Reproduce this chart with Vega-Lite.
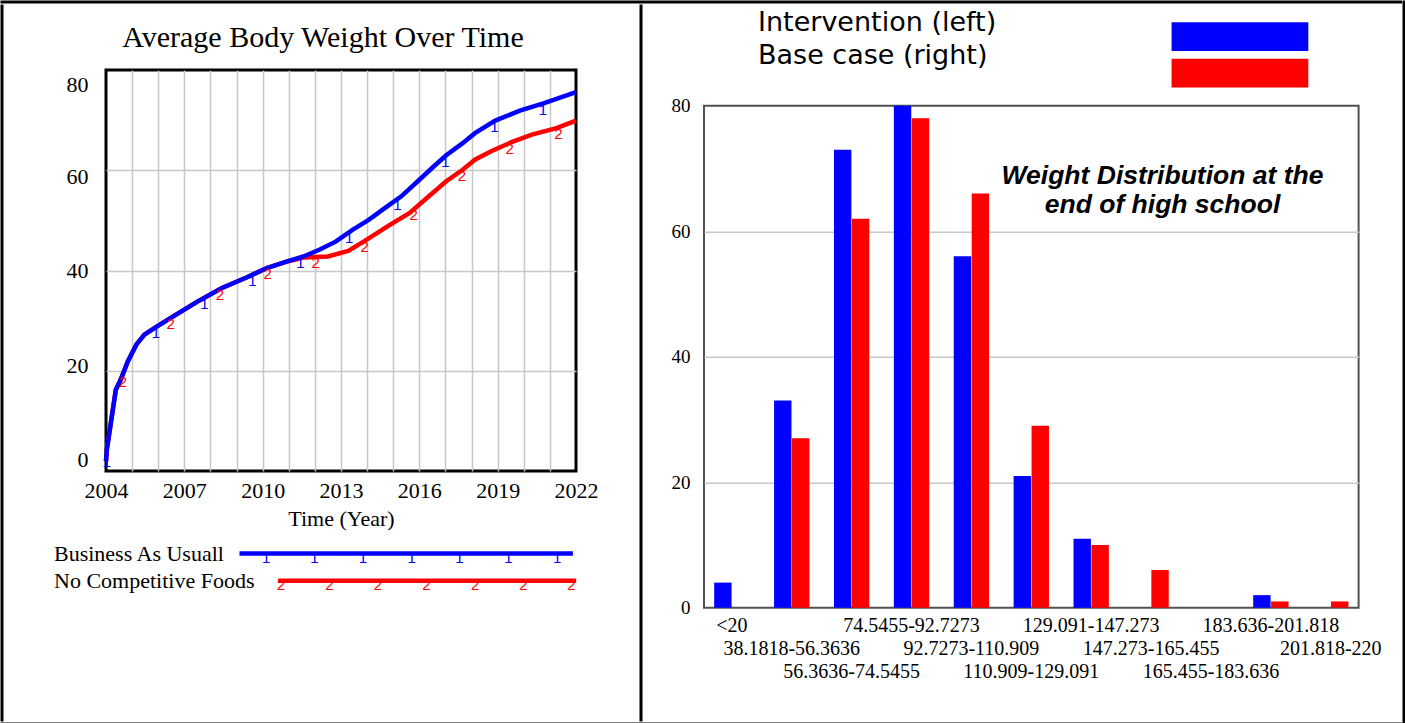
{
  "$schema": "https://vega.github.io/schema/vega-lite/v6.json",
  "padding": 0,
  "background": "white",
  "config": {
    "view": {"stroke": null},
    "axis": {"labelColor": "black", "titleColor": "black"}
  },
  "datasets": {
    "curves": [
      {"series": "Business As Usuall", "t": 2004.0, "v": 2.0},
      {"series": "Business As Usuall", "t": 2004.03, "v": 4.2},
      {"series": "Business As Usuall", "t": 2004.375, "v": 16.2},
      {"series": "Business As Usuall", "t": 2004.56, "v": 18.2},
      {"series": "Business As Usuall", "t": 2004.84, "v": 21.9},
      {"series": "Business As Usuall", "t": 2005.16, "v": 25.2},
      {"series": "Business As Usuall", "t": 2005.47, "v": 27.2},
      {"series": "Business As Usuall", "t": 2005.94, "v": 28.8},
      {"series": "Business As Usuall", "t": 2006.56, "v": 30.8},
      {"series": "Business As Usuall", "t": 2007.5, "v": 33.8},
      {"series": "Business As Usuall", "t": 2008.44, "v": 36.5},
      {"series": "Business As Usuall", "t": 2009.38, "v": 38.6},
      {"series": "Business As Usuall", "t": 2010.16, "v": 40.5},
      {"series": "Business As Usuall", "t": 2010.94, "v": 41.8},
      {"series": "Business As Usuall", "t": 2011.56, "v": 42.8},
      {"series": "Business As Usuall", "t": 2012.19, "v": 44.2},
      {"series": "Business As Usuall", "t": 2012.81, "v": 45.8},
      {"series": "Business As Usuall", "t": 2013.44, "v": 48.1},
      {"series": "Business As Usuall", "t": 2014.06, "v": 50.1},
      {"series": "Business As Usuall", "t": 2014.69, "v": 52.5},
      {"series": "Business As Usuall", "t": 2015.31, "v": 54.8},
      {"series": "Business As Usuall", "t": 2015.94, "v": 57.8},
      {"series": "Business As Usuall", "t": 2016.56, "v": 60.8},
      {"series": "Business As Usuall", "t": 2017.03, "v": 63.0},
      {"series": "Business As Usuall", "t": 2017.66, "v": 65.4},
      {"series": "Business As Usuall", "t": 2018.13, "v": 67.4},
      {"series": "Business As Usuall", "t": 2018.91, "v": 69.9},
      {"series": "Business As Usuall", "t": 2019.85, "v": 71.9},
      {"series": "Business As Usuall", "t": 2020.78, "v": 73.4},
      {"series": "Business As Usuall", "t": 2022.0, "v": 75.6},
      {"series": "No Competitive Foods", "t": 2004.0, "v": 2.0},
      {"series": "No Competitive Foods", "t": 2004.03, "v": 4.2},
      {"series": "No Competitive Foods", "t": 2004.375, "v": 16.2},
      {"series": "No Competitive Foods", "t": 2004.56, "v": 18.2},
      {"series": "No Competitive Foods", "t": 2004.84, "v": 21.9},
      {"series": "No Competitive Foods", "t": 2005.16, "v": 25.2},
      {"series": "No Competitive Foods", "t": 2005.47, "v": 27.2},
      {"series": "No Competitive Foods", "t": 2005.94, "v": 28.8},
      {"series": "No Competitive Foods", "t": 2006.56, "v": 30.8},
      {"series": "No Competitive Foods", "t": 2007.5, "v": 33.8},
      {"series": "No Competitive Foods", "t": 2008.44, "v": 36.5},
      {"series": "No Competitive Foods", "t": 2009.38, "v": 38.6},
      {"series": "No Competitive Foods", "t": 2010.16, "v": 40.5},
      {"series": "No Competitive Foods", "t": 2010.94, "v": 41.8},
      {"series": "No Competitive Foods", "t": 2011.56, "v": 42.6},
      {"series": "No Competitive Foods", "t": 2012.0, "v": 42.7},
      {"series": "No Competitive Foods", "t": 2012.5, "v": 42.8},
      {"series": "No Competitive Foods", "t": 2013.28, "v": 43.9},
      {"series": "No Competitive Foods", "t": 2013.91, "v": 45.9},
      {"series": "No Competitive Foods", "t": 2014.84, "v": 49.0},
      {"series": "No Competitive Foods", "t": 2015.63, "v": 51.5},
      {"series": "No Competitive Foods", "t": 2016.41, "v": 55.0},
      {"series": "No Competitive Foods", "t": 2017.03, "v": 57.8},
      {"series": "No Competitive Foods", "t": 2017.66, "v": 60.1},
      {"series": "No Competitive Foods", "t": 2018.13, "v": 62.1},
      {"series": "No Competitive Foods", "t": 2018.75, "v": 63.8},
      {"series": "No Competitive Foods", "t": 2019.53, "v": 65.6},
      {"series": "No Competitive Foods", "t": 2020.31, "v": 67.1},
      {"series": "No Competitive Foods", "t": 2021.25, "v": 68.4},
      {"series": "No Competitive Foods", "t": 2022.0, "v": 69.9}
    ],
    "markers": [
      {"series": "Business As Usuall", "t": 2004.03, "v": 3.0},
      {"series": "Business As Usuall", "t": 2005.91, "v": 28.7},
      {"series": "Business As Usuall", "t": 2007.77, "v": 34.6},
      {"series": "Business As Usuall", "t": 2009.61, "v": 39.1},
      {"series": "Business As Usuall", "t": 2011.45, "v": 42.6},
      {"series": "Business As Usuall", "t": 2013.31, "v": 47.6},
      {"series": "Business As Usuall", "t": 2015.16, "v": 54.3},
      {"series": "Business As Usuall", "t": 2017.0, "v": 62.9},
      {"series": "Business As Usuall", "t": 2018.88, "v": 69.8},
      {"series": "Business As Usuall", "t": 2020.73, "v": 73.3},
      {"series": "No Competitive Foods", "t": 2004.65, "v": 19.0},
      {"series": "No Competitive Foods", "t": 2006.48, "v": 30.6},
      {"series": "No Competitive Foods", "t": 2008.36, "v": 36.3},
      {"series": "No Competitive Foods", "t": 2010.19, "v": 40.5},
      {"series": "No Competitive Foods", "t": 2012.03, "v": 42.7},
      {"series": "No Competitive Foods", "t": 2013.91, "v": 45.9},
      {"series": "No Competitive Foods", "t": 2015.78, "v": 52.3},
      {"series": "No Competitive Foods", "t": 2017.63, "v": 60.0},
      {"series": "No Competitive Foods", "t": 2019.46, "v": 65.5},
      {"series": "No Competitive Foods", "t": 2021.33, "v": 68.5}
    ],
    "legendItems": [
      {"series": "Business As Usuall"},
      {"series": "No Competitive Foods"}
    ],
    "legendMarkers": [
      {"series": "Business As Usuall", "t": 2010.13},
      {"series": "Business As Usuall", "t": 2011.98},
      {"series": "Business As Usuall", "t": 2013.84},
      {"series": "Business As Usuall", "t": 2015.70},
      {"series": "Business As Usuall", "t": 2017.53},
      {"series": "Business As Usuall", "t": 2019.41},
      {"series": "Business As Usuall", "t": 2021.27},
      {"series": "No Competitive Foods", "t": 2010.70},
      {"series": "No Competitive Foods", "t": 2012.55},
      {"series": "No Competitive Foods", "t": 2014.41},
      {"series": "No Competitive Foods", "t": 2016.27},
      {"series": "No Competitive Foods", "t": 2018.13},
      {"series": "No Competitive Foods", "t": 2019.98},
      {"series": "No Competitive Foods", "t": 2021.82}
    ],
    "headerItems": [
      {"series": "Intervention (left)"},
      {"series": "Base case (right)"}
    ],
    "bins": [
      {"bin": "<20", "series": "Intervention (left)", "count": 4},
      {"bin": "<20", "series": "Base case (right)", "count": 0},
      {"bin": "38.1818-56.3636", "series": "Intervention (left)", "count": 33},
      {"bin": "38.1818-56.3636", "series": "Base case (right)", "count": 27},
      {"bin": "56.3636-74.5455", "series": "Intervention (left)", "count": 73},
      {"bin": "56.3636-74.5455", "series": "Base case (right)", "count": 62},
      {"bin": "74.5455-92.7273", "series": "Intervention (left)", "count": 80},
      {"bin": "74.5455-92.7273", "series": "Base case (right)", "count": 78},
      {"bin": "92.7273-110.909", "series": "Intervention (left)", "count": 56},
      {"bin": "92.7273-110.909", "series": "Base case (right)", "count": 66},
      {"bin": "110.909-129.091", "series": "Intervention (left)", "count": 21},
      {"bin": "110.909-129.091", "series": "Base case (right)", "count": 29},
      {"bin": "129.091-147.273", "series": "Intervention (left)", "count": 11},
      {"bin": "129.091-147.273", "series": "Base case (right)", "count": 10},
      {"bin": "147.273-165.455", "series": "Intervention (left)", "count": 0},
      {"bin": "147.273-165.455", "series": "Base case (right)", "count": 6},
      {"bin": "165.455-183.636", "series": "Intervention (left)", "count": 0},
      {"bin": "165.455-183.636", "series": "Base case (right)", "count": 0},
      {"bin": "183.636-201.818", "series": "Intervention (left)", "count": 2},
      {"bin": "183.636-201.818", "series": "Base case (right)", "count": 1},
      {"bin": "201.818-220", "series": "Intervention (left)", "count": 0},
      {"bin": "201.818-220", "series": "Base case (right)", "count": 1}
    ]
  },
  "spacing": 0,
  "hconcat": [
    {
      "spacing": 0,
      "vconcat": [
        {"width": 1398.5, "height": 0.01, "data": {"values": []}, "mark": "rule", "encoding": {}, "view": {"stroke": "black", "strokeWidth": 3}},
        {
          "spacing": 0,
          "hconcat": [
            {"width": 0.01, "height": 714, "data": {"values": []}, "mark": "rule", "encoding": {}, "view": {"stroke": "black", "strokeWidth": 3}},
            {
              "bounds": "flush",
              "spacing": 63,
              "vconcat": [
                {
                  "width": 532.5,
                  "height": 0.01,
                  "data": {"values": [{}]},
                  "mark": {"type": "text", "text": "", "baseline": "top", "fontSize": 1},
                  "encoding": {
                    "x": {"datum": 0.5, "type": "quantitative", "scale": {"domain": [0, 1]},
                      "axis": {"labels": false, "ticks": false, "domain": false, "grid": false,
                        "title": "Average Body Weight Over Time", "titleFont": "Liberation Serif", "titleFontSize": 30, "titleFontWeight": "normal",
                        "titleX": 216.5, "titleY": 40.5, "titleAlign": "center", "titleBaseline": "alphabetic", "titleAngle": 0}}
                  }
                },
                {
                  "width": 470,
                  "height": 401,
                  "view": {"stroke": "black", "strokeWidth": 3},
                  "encoding": {
                    "x": {"field": "t", "type": "quantitative",
                      "scale": {"domain": [2004, 2022], "nice": false, "zero": false},
                      "axis": {"values": [2004,2005,2006,2007,2008,2009,2010,2011,2012,2013,2014,2015,2016,2017,2018,2019,2020,2021,2022],
                        "labelExpr": "datum.value % 3 == 0 ? format(datum.value, 'd') : ''",
                        "labelFlush": false, "labelOverlap": false, "grid": true, "gridColor": "#c8c8c8", "gridWidth": 1.5,
                        "gridOpacity": {"condition": {"test": "datum.value == 2004 || datum.value == 2022", "value": 0}, "value": 1},
                        "ticks": false, "domain": false, "labelFont": "Liberation Serif", "labelFontSize": 22, "labelPadding": 9.5,
                        "title": "Time (Year)", "titleFont": "Liberation Serif", "titleFontSize": 22, "titleFontWeight": "normal", "titleY": 54, "titleBaseline": "alphabetic"}},
                    "y": {"field": "v", "type": "quantitative",
                      "scale": {"domain": [0, 80], "nice": false},
                      "axis": {"values": [0, 20, 40, 60, 80], "grid": true, "gridColor": "#c8c8c8", "gridWidth": 1.5,
                        "gridOpacity": {"condition": {"test": "datum.value == 0 || datum.value == 80", "value": 0}, "value": 1},
                        "ticks": false, "domain": false, "labelFont": "Liberation Serif", "labelFontSize": 22, "labelPadding": 18,
                        "labelOffset": {"condition": [{"test": "datum.value == 80", "value": 14}, {"test": "datum.value == 60", "value": 6}, {"test": "datum.value == 20", "value": -5}, {"test": "datum.value == 0", "value": -12}], "value": 0},
                        "title": " ", "titleX": -100, "titleY": -58, "titleAngle": 0, "titleAlign": "left", "titleBaseline": "top", "titleFontSize": 10}},
                    "color": {"field": "series", "type": "nominal", "scale": {"domain": ["Business As Usuall", "No Competitive Foods"], "range": ["#0000ff", "#ff0000"]}, "legend": null}
                  },
                  "layer": [
                    {"data": {"name": "curves"}, "transform": [{"filter": "datum.series === 'No Competitive Foods'"}], "mark": {"type": "line", "strokeWidth": 4.5}},
                    {"data": {"name": "curves"}, "transform": [{"filter": "datum.series === 'Business As Usuall'"}], "mark": {"type": "line", "strokeWidth": 4.5}},
                    {"data": {"name": "markers"}, "mark": {"type": "text", "font": "Liberation Sans", "fontSize": 15, "baseline": "top", "align": "center", "dy": -1},
                      "encoding": {"text": {"condition": {"test": "datum.series === 'Business As Usuall'", "value": "1"}, "value": "2"}}}
                  ]
                },
                {
                  "width": 532.5,
                  "height": 66.4,
                  "data": {"name": "legendItems"},
                  "encoding": {
                    "y": {"field": "series", "type": "nominal", "scale": {"type": "point", "padding": 0.72, "domain": ["Business As Usuall", "No Competitive Foods"]},
                      "axis": {"title": null, "domain": false, "ticks": false, "tickSize": 0, "grid": false, "labelAlign": "left", "labelPadding": 52.5, "labelFont": "Liberation Serif", "labelFontSize": 22, "labelBaseline": "middle", "labelLimit": 400}},
                    "color": {"field": "series", "type": "nominal", "scale": {"domain": ["Business As Usuall", "No Competitive Foods"], "range": ["#0000ff", "#ff0000"]}, "legend": null}
                  },
                  "layer": [
                    {"transform": [{"filter": "datum.series === 'Business As Usuall'"}], "mark": {"type": "rule", "strokeWidth": 4.5},
                      "encoding": {"x": {"datum": 2009.11, "type": "quantitative", "scale": {"domain": [2004, 2024.387], "nice": false, "zero": false}, "axis": null}, "x2": {"datum": 2021.875}}},
                    {"transform": [{"filter": "datum.series === 'No Competitive Foods'"}], "mark": {"type": "rule", "strokeWidth": 4.5},
                      "encoding": {"x": {"datum": 2010.59, "type": "quantitative"}, "x2": {"datum": 2022.0}}},
                    {"data": {"name": "legendMarkers"}, "mark": {"type": "text", "font": "Liberation Sans", "fontSize": 15, "baseline": "top", "align": "center", "dy": -3},
                      "encoding": {"x": {"field": "t", "type": "quantitative"}, "text": {"condition": {"test": "datum.series === 'Business As Usuall'", "value": "1"}, "value": "2"}}}
                  ]
                }
              ]
            },
            {"width": 0.01, "height": 714, "data": {"values": []}, "mark": "rule", "encoding": {}, "view": {"stroke": "black", "strokeWidth": 3}},
            {
              "bounds": "flush",
              "spacing": 0.7,
              "vconcat": [
                {
                  "width": 654.6,
                  "height": 98.7,
                  "data": {"name": "headerItems"},
                  "layer": [
                    {"mark": {"type": "rect"},
                      "encoding": {
                        "x": {"datum": 71.43, "type": "quantitative", "scale": {"domain": [0, 100], "nice": false, "zero": false}, "axis": null},
                        "x2": {"datum": 92.32},
                        "y": {"field": "series", "type": "nominal", "scale": {"type": "band", "domain": ["Intervention (left)", "Base case (right)"], "paddingInner": 0.216, "paddingOuter": 0.459, "align": 0.485}, "axis": null},
                        "color": {"field": "series", "type": "nominal", "scale": {"domain": ["Intervention (left)", "Base case (right)"], "range": ["#0000ff", "#ff0000"]}, "legend": null}
                      }},
                    {"mark": {"type": "text", "align": "left", "baseline": "alphabetic", "font": "DejaVu Sans", "fontSize": 27, "color": "black"},
                      "encoding": {
                        "x": {"datum": 8.25, "type": "quantitative"},
                        "y": {"field": "series", "type": "nominal", "scale": {"type": "point", "domain": ["Intervention (left)", "Base case (right)"], "padding": 1.1667, "align": 0.3786}, "axis": null},
                        "text": {"field": "series"}
                      }}
                  ],
                  "resolve": {"scale": {"y": "independent"}}
                },
                {
                  "width": 654.6,
                  "height": 502,
                  "view": {"stroke": "#505050", "strokeWidth": 2},
                  "data": {"name": "bins"},
                  "mark": {"type": "bar"},
                  "encoding": {
                    "x": {"field": "bin", "type": "nominal",
                      "sort": ["<20", "38.1818-56.3636", "56.3636-74.5455", "74.5455-92.7273", "92.7273-110.909", "110.909-129.091", "129.091-147.273", "147.273-165.455", "165.455-183.636", "183.636-201.818", "201.818-220"],
                      "scale": {"paddingInner": 0.41, "paddingOuter": 0.17},
                      "axis": {"labelAngle": 0,
                        "labelFont": "Liberation Serif", "labelFontSize": 20, "labelBaseline": "top",
                        "labelPadding": {"condition": [{"test": "round(datum.index * 10) % 3 == 1", "value": 31}, {"test": "round(datum.index * 10) % 3 == 2", "value": 54}], "value": 8},
                        "ticks": false, "domain": false, "grid": false, "labelOverlap": false, "labelBound": false, "labelLimit": 400,
                        "title": ["Weight Distribution at the", "end of high school"], "titleX": 458, "titleY": -424.2, "titleFont": "Liberation Sans", "titleFontSize": 26.5,
                        "titleFontWeight": "bold", "titleFontStyle": "italic", "titleLineHeight": 29, "titleAlign": "center", "titleBaseline": "alphabetic", "titleAngle": 0}},
                    "y": {"field": "count", "type": "quantitative",
                      "scale": {"domain": [0, 80], "nice": false},
                      "axis": {"values": [0, 20, 40, 60, 80], "grid": true, "gridColor": "#c8c8c8", "gridWidth": 1.5,
                        "gridOpacity": {"condition": {"test": "datum.value == 0 || datum.value == 80", "value": 0}, "value": 1},
                        "ticks": false, "domain": false, "labelFont": "Liberation Serif", "labelFontSize": 19, "labelPadding": 14,
                        "title": " ", "titleX": -59.5, "titleY": -97, "titleAngle": 0, "titleAlign": "left", "titleBaseline": "top", "titleFontSize": 10}},
                    "xOffset": {"field": "series", "type": "nominal", "sort": ["Intervention (left)", "Base case (right)"], "scale": {"paddingInner": 0.03}},
                    "color": {"field": "series", "type": "nominal",
                      "scale": {"domain": ["Intervention (left)", "Base case (right)"], "range": ["#0000ff", "#ff0000"]},
                      "legend": null}
                  }
                }
              ]
            }
          ]
        },
        {"width": 1398.5, "height": 0.01, "data": {"values": []}, "mark": "rule", "encoding": {}, "view": {"stroke": "black", "strokeWidth": 3}}
      ]
    },
    {"width": 0.01, "height": 720, "data": {"values": []}, "mark": "rule", "encoding": {}, "view": {"stroke": "black", "strokeWidth": 3}}
  ]
}
